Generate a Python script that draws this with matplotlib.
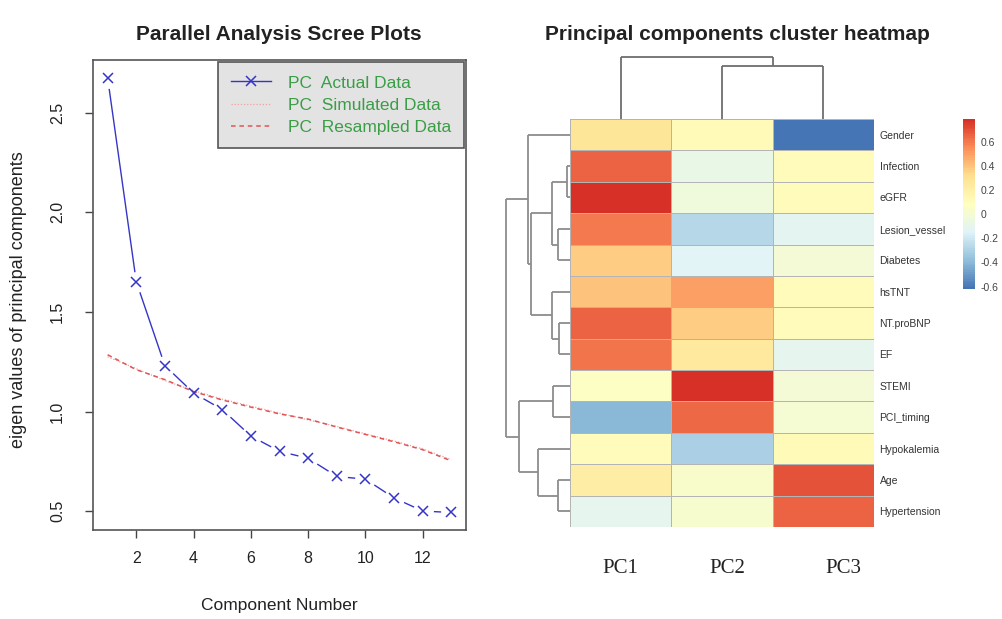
import numpy as np
import matplotlib
matplotlib.use("Agg")
import matplotlib.pyplot as plt
from matplotlib.colors import LinearSegmentedColormap
from matplotlib.lines import Line2D

plt.rcParams['font.family'] = ['Liberation Sans', 'DejaVu Sans']

# --- scree plot data ---
components = [1, 2, 3, 4, 5, 6, 7, 8, 9, 10, 11, 12, 13]
actual_pc = [2.676, 1.652, 1.23, 1.093, 1.01, 0.877, 0.80, 0.765, 0.674, 0.66, 0.566, 0.50, 0.493]
simulated_pc = [1.275, 1.215, 1.155, 1.105, 1.062, 1.027, 0.992, 0.958, 0.925, 0.888, 0.852, 0.812, 0.758]
resampled_pc = [1.285, 1.21, 1.16, 1.10, 1.058, 1.022, 0.988, 0.962, 0.922, 0.885, 0.848, 0.808, 0.752]
legend_labels = ['PC  Actual Data', 'PC  Simulated Data', 'PC  Resampled Data']

# --- heatmap data ---
variables = ['Gender', 'Infection', 'eGFR', 'Lesion_vessel', 'Diabetes', 'hsTNT',
             'NT.proBNP', 'EF', 'STEMI', 'PCI_timing', 'Hypokalemia', 'Age', 'Hypertension']
pcs = ['PC1', 'PC2', 'PC3']
loadings = [
    [0.27, 0.12, -0.62],
    [0.65, -0.08, 0.10],
    [0.78, -0.03, 0.10],
    [0.60, -0.27, -0.12],
    [0.38, -0.14, 0.00],
    [0.40, 0.50, 0.10],
    [0.66, 0.38, 0.10],
    [0.62, 0.25, -0.10],
    [0.06, 0.78, 0.00],
    [-0.40, 0.64, 0.01],
    [0.10, -0.30, 0.12],
    [0.22, 0.04, 0.70],
    [-0.10, 0.02, 0.66],
]
# dendrogram merges: (child a, child b, height); leaves are 0..n-1 in display order
row_links = [(1, 2, 3.3), (3, 4, 11.7), (13, 14, 18.3), (6, 7, 10.7), (5, 16, 18.3),
             (15, 17, 39.3), (0, 18, 41.7), (8, 9, 16.7), (11, 12, 11.7), (10, 21, 31.7),
             (20, 22, 50.7), (19, 23, 64.0)]
col_links = [(1, 2, 0.854), (0, 3, 1.0)]
cbar_ticks = [0.6, 0.4, 0.2, 0, -0.2, -0.4, -0.6]
cbar_labels = ['0.6', '0.4', '0.2', '0', '-0.2', '-0.4', '-0.6']

W, H = 1003, 619
fig = plt.figure(figsize=(W / 100, H / 100), dpi=100)


def box(x0, y0, x1, y1):
    return [x0 / W, 1 - y1 / H, (x1 - x0) / W, (y1 - y0) / H]


# ---------------- scree plot ----------------
ax = fig.add_axes(box(93, 60, 466, 530))
blue = '#3535c8'
ax.plot(components, actual_pc, color=blue, lw=1.0, zorder=1)
# white discs give the R type="b" gaps around points
ax.plot(components, actual_pc, ls='none', marker='o', ms=15, mfc='white', mec='none', zorder=2)
ax.plot(components, simulated_pc, color='#f0a0a0', lw=0.9, ls=(0, (1, 1.5)), zorder=3)
ax.plot(components, resampled_pc, color='#e05555', lw=1.1, ls=(0, (3, 2.5)), zorder=3)
ax.plot(components, actual_pc, ls='none', marker='x', ms=7, mew=1.1, color=blue, zorder=4)

ax.set_xlim(0.49, 13.51)
ax.set_ylim(0.405, 2.765)
ax.set_xticks([2, 4, 6, 8, 10, 12])
ax.set_yticks([0.5, 1.0, 1.5, 2.0, 2.5])
ax.tick_params(axis='both', direction='out', length=6, width=1, color='#444444',
               labelsize=11.5, labelcolor='#222222')
ax.tick_params(axis='x', pad=9)
ax.tick_params(axis='y', pad=14)
plt.setp(ax.get_yticklabels(), rotation=90, va='center')
for s in ax.spines.values():
    s.set_color('#555555')
    s.set_linewidth(1.2)
ax.set_ylabel('eigen values of principal components', fontsize=13, color='#222222',
              va='center')
ax.yaxis.set_label_coords(-0.20, 0.49)
ax.set_xlabel('Component Number', fontsize=12.5, color='#222222', va='center')
ax.xaxis.set_label_coords(0.5, -0.16)
fig.text(279 / W, 1 - 35 / H, 'Parallel Analysis Scree Plots', ha='center', va='center',
         fontsize=15, fontweight='bold', color='#222222')

handles = [Line2D([], [], color=blue, lw=1, marker='x', ms=7, mew=1.1),
           Line2D([], [], color='#f0a0a0', lw=0.9, ls=(0, (1, 1.5))),
           Line2D([], [], color='#e05555', lw=1.1, ls=(0, (3, 2.5)))]
leg = ax.legend(handles, legend_labels, loc='upper right', bbox_to_anchor=(0.995, 0.995),
                fontsize=12.5, frameon=True, fancybox=False, framealpha=1,
                facecolor='#e3e3e3', edgecolor='#555555', handlelength=2.3,
                handletextpad=1.0, labelspacing=0.42, borderpad=0.75, borderaxespad=0)
leg.get_frame().set_linewidth(1.2)
for t in leg.get_texts():
    t.set_color('#3a9e46')

# ---------------- heatmap ----------------
vals = np.array(loadings)
nrow, ncol = vals.shape
cmap = LinearSegmentedColormap.from_list(
    'pheat', ['#4575B4', '#91BFDB', '#E0F3F8', '#FFFFBF', '#FEE090', '#FC8D59', '#D73027'], N=100)

hm_top, hm_bot = 119, 527
hx = fig.add_axes(box(570, hm_top, 874, hm_bot))
mesh = hx.pcolormesh(vals, cmap=cmap, vmin=-0.62, vmax=0.79,
                     edgecolors='#b4b4b4', linewidth=0.6)
hx.set_xlim(0, ncol)
hx.set_ylim(nrow, 0)
for s in hx.spines.values():
    s.set_visible(False)
hx.yaxis.tick_right()
hx.set_yticks(np.arange(nrow) + 0.5)
hx.set_yticklabels(variables, fontsize=7.5, color='#333333')
hx.tick_params(axis='y', length=0, pad=4)
hx.set_xticks([])
col_label_dx = [0.0, 0.05, 0.2]
for j, name in enumerate(pcs):
    hx.text(j + 0.5 + col_label_dx[j], nrow + 1.33, name, ha='center', va='center',
            fontsize=15, family=['Liberation Serif', 'DejaVu Serif'], color='#222222')


def draw_dendro(axd, links, n, orient, color):
    pos = {i: i + 0.5 for i in range(n)}
    hgt = {i: 0.0 for i in range(n)}
    for k, (a, b, h) in enumerate(links):
        for c in (a, b):
            xs, ys = [pos[c], pos[c]], [hgt[c], h]
            if orient == 'left':
                xs, ys = ys, xs
            axd.plot(xs, ys, color=color, lw=1.3, clip_on=False, solid_capstyle='butt')
        xs, ys = [pos[a], pos[b]], [h, h]
        if orient == 'left':
            xs, ys = ys, xs
        axd.plot(xs, ys, color=color, lw=1.3, clip_on=False, solid_capstyle='butt')
        pos[n + k] = (pos[a] + pos[b]) / 2
        hgt[n + k] = h
    axd.axis('off')


rx = fig.add_axes(box(506, hm_top, 570, hm_bot))
draw_dendro(rx, row_links, nrow, 'left', '#8c8c8c')
rx.set_xlim(max(l[2] for l in row_links), 0)
rx.set_ylim(nrow, 0)

cx = fig.add_axes(box(570, 56.5, 874, hm_top))
draw_dendro(cx, col_links, ncol, 'top', '#6e6e6e')
cx.set_xlim(0, ncol)
cx.set_ylim(0, max(l[2] for l in col_links))

fig.text(737 / W, 1 - 35 / H, 'Principal components cluster heatmap', ha='center',
         va='center', fontsize=15, fontweight='bold', color='#222222')

# colorbar
cax = fig.add_axes(box(963, 119, 975, 289))
cb = fig.colorbar(mesh, cax=cax)
cb.outline.set_visible(False)
cb.set_ticks(cbar_ticks)
cb.set_ticklabels(cbar_labels)
cax.tick_params(length=0, labelsize=7.5, labelcolor='#444444', pad=4)

fig.savefig('out.png', dpi=100, facecolor='white')
